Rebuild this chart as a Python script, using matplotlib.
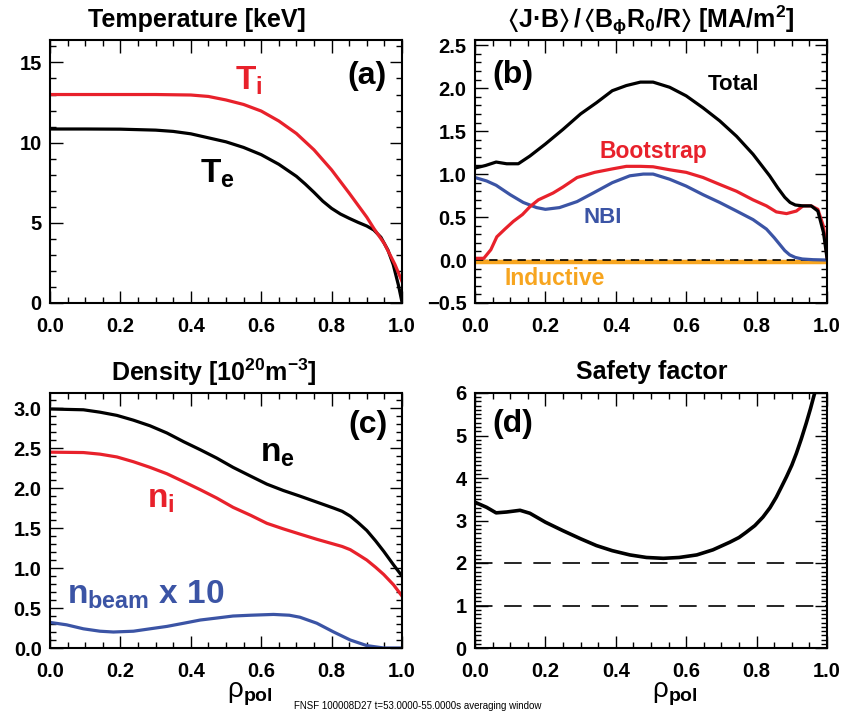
import matplotlib
matplotlib.use("Agg")
import matplotlib.pyplot as plt
from matplotlib.ticker import MultipleLocator

plt.rcParams["font.family"] = ["Liberation Sans", "DejaVu Sans"]
plt.rcParams["mathtext.fontset"] = "custom"
plt.rcParams["mathtext.rm"] = "Liberation Sans:normal"
plt.rcParams["mathtext.bf"] = "Liberation Sans:bold"
plt.rcParams["mathtext.it"] = "Liberation Sans:italic"
plt.rcParams["mathtext.sf"] = "Liberation Sans:normal"
plt.rcParams["mathtext.fallback"] = "stixsans"

RED = "#E8212B"
BLUE = "#3B54A5"
ORANGE = "#F7A51F"

# (a) temperature [keV]
RHO_TI = [0, 0.1, 0.2, 0.3, 0.4, 0.45, 0.5, 0.55, 0.6, 0.65, 0.7, 0.75, 0.8,
          0.85, 0.9, 0.92, 0.95, 0.98, 1.0]
TI = [13.0, 13.0, 13.0, 13.0, 12.97, 12.88, 12.66, 12.38, 11.97, 11.35, 10.57,
      9.55, 8.3, 6.85, 5.35, 4.65, 3.7, 2.4, 1.35]
RHO_TE = [0, 0.1, 0.2, 0.3, 0.35, 0.4, 0.45, 0.5, 0.55, 0.6, 0.65, 0.7, 0.725,
          0.75, 0.775, 0.8, 0.825, 0.85, 0.875, 0.9, 0.92, 0.94, 0.96, 0.975,
          0.99, 1.0]
TE = [10.85, 10.85, 10.84, 10.78, 10.7, 10.55, 10.3, 10.05, 9.7, 9.25, 8.65,
      7.9, 7.42, 6.9, 6.35, 5.9, 5.55, 5.28, 5.03, 4.8, 4.55, 4.1, 3.3, 2.4,
      1.1, 0.05]

# (b) current density [MA/m^2]
RHO_TOT = [0, 0.03, 0.06, 0.09, 0.123, 0.156, 0.2, 0.25, 0.3, 0.345, 0.39,
           0.43, 0.47, 0.506, 0.553, 0.6, 0.648, 0.695, 0.743, 0.79, 0.837,
           0.86, 0.88, 0.895, 0.91, 0.932, 0.955, 0.974, 0.99, 1.0]
TOTAL = [1.07, 1.10, 1.14, 1.12, 1.12, 1.21, 1.35, 1.52, 1.70, 1.83, 1.97,
         2.03, 2.07, 2.07, 2.01, 1.91, 1.77, 1.62, 1.44, 1.23, 0.98, 0.84,
         0.73, 0.67, 0.64, 0.63, 0.63, 0.57, 0.32, 0.02]
RHO_BS = [0, 0.025, 0.045, 0.062, 0.085, 0.109, 0.135, 0.156, 0.18, 0.222,
          0.25, 0.29, 0.34, 0.39, 0.43, 0.47, 0.506, 0.553, 0.6, 0.648, 0.695,
          0.743, 0.79, 0.828, 0.856, 0.885, 0.913, 0.932, 0.955, 0.974, 0.99,
          1.0]
BOOTSTRAP = [0.02, 0.02, 0.12, 0.27, 0.36, 0.45, 0.53, 0.62, 0.70, 0.78,
             0.85, 0.96, 1.02, 1.06, 1.09, 1.09, 1.085, 1.05, 1.02, 0.96,
             0.88, 0.80, 0.70, 0.63, 0.56, 0.54, 0.57, 0.63, 0.63, 0.59,
             0.39, 0.04]
RHO_NBI = [0, 0.033, 0.06, 0.1, 0.137, 0.175, 0.2, 0.24, 0.29, 0.336, 0.39,
           0.44, 0.478, 0.506, 0.553, 0.6, 0.648, 0.695, 0.743, 0.79, 0.828,
           0.85, 0.866, 0.88, 0.894, 0.91, 0.93, 0.96, 1.0]
NBI = [0.96, 0.92, 0.87, 0.76, 0.67, 0.61, 0.59, 0.61, 0.68, 0.78, 0.90,
       0.98, 1.0, 1.0, 0.94, 0.86, 0.76, 0.67, 0.57, 0.47, 0.36, 0.26, 0.18,
       0.11, 0.06, 0.03, 0.012, 0.004, 0.0]
RHO_IND = [0, 0.5, 1.0]
INDUCTIVE = [-0.02, -0.02, -0.02]

# (c) density [1e20 m^-3]
RHO_N = [0, 0.095, 0.142, 0.19, 0.237, 0.284, 0.332, 0.38, 0.427, 0.474,
         0.52, 0.57, 0.616, 0.663, 0.71, 0.758, 0.806, 0.83, 0.853, 0.875,
         0.9, 0.925, 0.948, 0.976, 1.0]
NE = [2.99, 2.98, 2.95, 2.91, 2.85, 2.78, 2.69, 2.58, 2.48, 2.375, 2.26,
      2.15, 2.05, 1.97, 1.90, 1.825, 1.75, 1.71, 1.65, 1.57, 1.47, 1.34, 1.21,
      1.04, 0.90]
NI = [2.45, 2.445, 2.425, 2.39, 2.33, 2.26, 2.18, 2.08, 1.98, 1.875, 1.76,
      1.66, 1.56, 1.49, 1.425, 1.36, 1.30, 1.27, 1.23, 1.17, 1.10, 1.01, 0.92,
      0.79, 0.65]
RHO_NB = [0, 0.047, 0.095, 0.142, 0.18, 0.237, 0.284, 0.332, 0.38, 0.427,
          0.474, 0.52, 0.57, 0.635, 0.68, 0.71, 0.758, 0.806, 0.853, 0.9,
          0.948, 1.0]
NBEAM10 = [0.32, 0.29, 0.24, 0.21, 0.20, 0.21, 0.24, 0.27, 0.31, 0.35,
           0.375, 0.40, 0.41, 0.42, 0.41, 0.385, 0.31, 0.20, 0.10, 0.03,
           0.0, 0.0]

# (d) safety factor
RHO_Q = [0, 0.033, 0.06, 0.09, 0.128, 0.156, 0.2, 0.25, 0.3, 0.345, 0.39,
         0.44, 0.487, 0.535, 0.58, 0.63, 0.676, 0.724, 0.75, 0.77, 0.795,
         0.818, 0.838, 0.856, 0.87, 0.885, 0.9, 0.913, 0.927, 0.941, 0.953,
         0.965, 0.98]
Q = [3.43, 3.31, 3.18, 3.2, 3.24, 3.17, 2.96, 2.76, 2.57, 2.41, 2.29, 2.19,
     2.13, 2.11, 2.13, 2.19, 2.31, 2.49, 2.6, 2.72, 2.88, 3.08, 3.3, 3.55,
     3.78, 4.03, 4.3, 4.58, 4.92, 5.29, 5.63, 6.0, 6.6]
Q_REF = [1, 2]

W, H = 845, 718


def make_axes(fig, left, top, bottom):
    ax = fig.add_axes([left / W, (H - bottom) / H, 352 / W, (bottom - top) / H])
    ax.set_xlim(0, 1)
    ax.xaxis.set_major_locator(MultipleLocator(0.2))
    ax.xaxis.set_minor_locator(MultipleLocator(0.05))
    ax.tick_params(which="both", direction="in", top=True, right=True,
                   labelsize=14.5, width=1.0)
    ax.tick_params(which="major", length=9)
    ax.tick_params(which="minor", length=4.5)
    ax.tick_params(axis="x", pad=10)
    ax.tick_params(axis="y", pad=6)
    for spine in ax.spines.values():
        spine.set_linewidth(1.5)
    return ax


def bold_ticks(ax):
    for lab in ax.get_xticklabels() + ax.get_yticklabels():
        lab.set_fontweight("bold")


def fig_text(fig, x, y, s, **kw):
    fig.text(x / W, 1 - y / H, s, **kw)


fig = plt.figure(figsize=(W / 100, H / 100), dpi=100)
lw = 2.3
RHO_LABEL = r"$\mathrm{ρ}_{\mathbf{pol}}$"

# (a)
ax = make_axes(fig, 50, 40, 303)
ax.plot(RHO_TE, TE, color="black", lw=lw)
ax.plot(RHO_TI, TI, color=RED, lw=lw)
ax.set_ylim(0, 16.4)
ax.yaxis.set_major_locator(MultipleLocator(5))
ax.yaxis.set_minor_locator(MultipleLocator(1))
bold_ticks(ax)
ax.text(0.957, 0.863, "(a)", transform=ax.transAxes, ha="right", va="center",
        fontsize=23, fontweight="bold")
ax.text(0.526, 13.3, r"$\mathbf{T_i}$", color=RED, fontsize=24, va="baseline")
ax.text(0.426, 7.5, r"$\mathbf{T_e}$", color="black", fontsize=24, va="baseline")
fig_text(fig, 197, 20, "Temperature [keV]", ha="center", va="center",
         fontsize=18, fontweight="bold")

# (b)
ax = make_axes(fig, 475, 40, 303)
ax.plot(RHO_IND, INDUCTIVE, color=ORANGE, lw=3.2)
ax.axhline(0, color="black", lw=1.2, dashes=(5, 3.5))
ax.plot(RHO_NBI, NBI, color=BLUE, lw=lw)
ax.plot(RHO_BS, BOOTSTRAP, color=RED, lw=lw)
ax.plot(RHO_TOT, TOTAL, color="black", lw=lw)
ax.set_ylim(-0.5, 2.56)
ax.yaxis.set_major_locator(MultipleLocator(0.5))
ax.yaxis.set_minor_locator(MultipleLocator(0.1))
bold_ticks(ax)
ax.text(0.048, 0.867, "(b)", transform=ax.transAxes, ha="left", va="center",
        fontsize=23, fontweight="bold")
ax.text(0.662, 1.98, "Total", color="black", fontsize=16, fontweight="bold",
        va="baseline")
ax.text(0.355, 1.19, "Bootstrap", color=RED, fontsize=16.5, fontweight="bold",
        va="baseline")
ax.text(0.307, 0.43, "NBI", color=BLUE, fontsize=16, fontweight="bold",
        va="baseline")
ax.text(0.085, -0.29, "Inductive", color=ORANGE, fontsize=16.5,
        fontweight="bold", va="baseline")
fig_text(fig, 651, 20,
         r"$\mathbf{\langle J·B\rangle\,/\,\langle B_{\phi}R_0/R\rangle\ [MA/m^2]}$",
         ha="center", va="center", fontsize=18)

# (c)
ax = make_axes(fig, 50, 393, 648)
ax.plot(RHO_NB, NBEAM10, color=BLUE, lw=lw)
ax.plot(RHO_N, NI, color=RED, lw=lw)
ax.plot(RHO_N, NE, color="black", lw=lw)
ax.set_ylim(0, 3.19)
ax.yaxis.set_major_locator(MultipleLocator(0.5))
ax.yaxis.set_minor_locator(MultipleLocator(0.1))
bold_ticks(ax)
ax.text(0.96, 0.875, "(c)", transform=ax.transAxes, ha="right", va="center",
        fontsize=23, fontweight="bold")
ax.text(0.597, 2.33, r"$\mathbf{n_e}$", color="black", fontsize=24, va="baseline")
ax.text(0.275, 1.76, r"$\mathbf{n_i}$", color=RED, fontsize=24, va="baseline")
ax.text(0.048, 0.56, r"$\mathbf{n_{beam}\ x\ 10}$", color=BLUE, fontsize=24,
        va="baseline")
fig_text(fig, 214, 372, r"$\mathbf{Density\ [10^{20}m^{-3}]}$", ha="center",
         va="center", fontsize=18)
fig_text(fig, 227, 698, RHO_LABEL, ha="left", va="baseline", fontsize=20)

# (d)
ax = make_axes(fig, 475, 393, 648)
for q in Q_REF:
    ax.axhline(q, color="black", lw=1.2, dashes=(10.5, 7))
ax.plot(RHO_Q, Q, color="black", lw=2.6)
ax.set_ylim(0, 6)
ax.yaxis.set_major_locator(MultipleLocator(1))
ax.yaxis.set_minor_locator(MultipleLocator(0.1))
bold_ticks(ax)
ax.text(0.048, 0.88, "(d)", transform=ax.transAxes, ha="left", va="center",
        fontsize=23, fontweight="bold")
fig_text(fig, 652, 372, "Safety factor", ha="center", va="center",
         fontsize=18, fontweight="bold")
fig_text(fig, 652, 698, RHO_LABEL, ha="left", va="baseline", fontsize=20)

fig_text(fig, 418, 706, "FNSF 100008D27 t=53.0000-55.0000s averaging window",
         ha="center", va="center", fontsize=7)

fig.savefig("out.png", dpi=100, facecolor="white")
